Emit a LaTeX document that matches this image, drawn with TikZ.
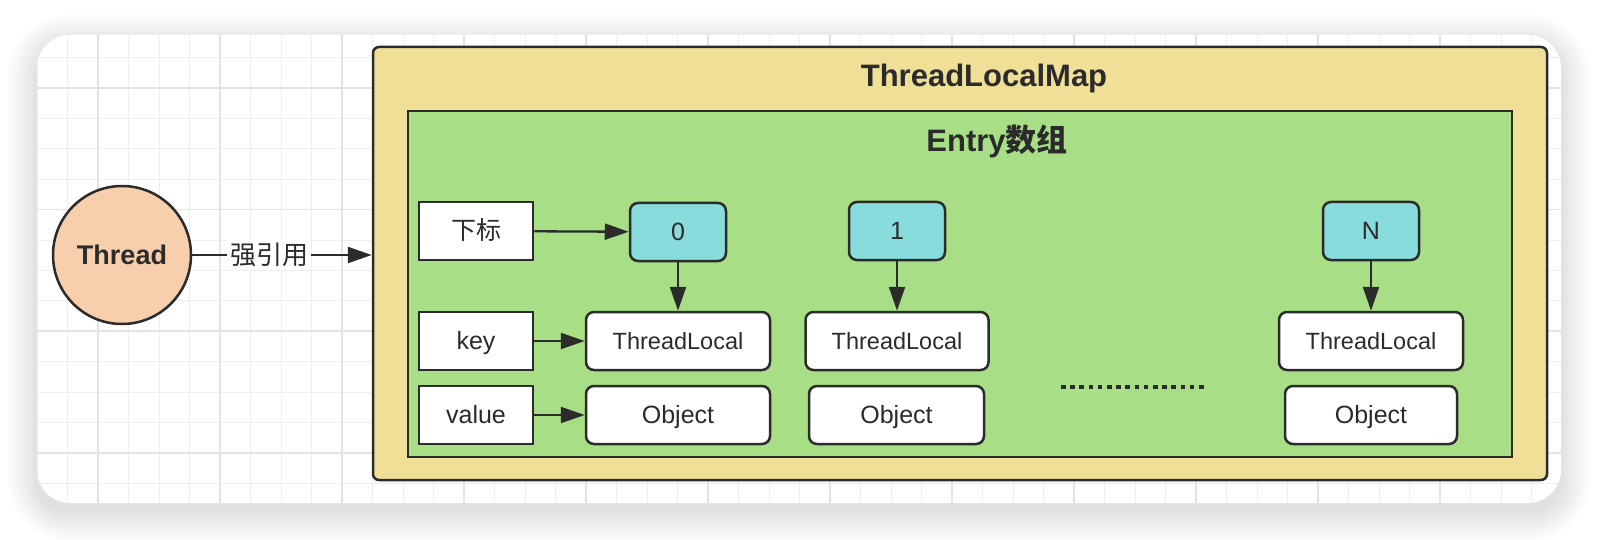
\documentclass[tikz,border=0pt]{standalone}
\usepackage{fontspec}
\setmainfont{Liberation Sans}
\newfontfamily\cjk{Noto Sans CJK SC}
\usetikzlibrary{arrows.meta}
\definecolor{ink}{HTML}{2B2B2B}
\definecolor{gridgray}{HTML}{EEEEEE}
\definecolor{gridmajor}{HTML}{E3E3E3}
\definecolor{mapyellow}{HTML}{EFDF97}
\definecolor{entrygreen}{HTML}{A8DF86}
\definecolor{cellblue}{HTML}{88DCDC}
\definecolor{threadpeach}{HTML}{F7CFAC}

\begin{document}
\begin{tikzpicture}[
    x=1pt,y=-1pt,
    box/.style={draw=ink, line width=2.5pt, fill=white, inner sep=0pt,
      minimum height=58pt, text=ink, text height=22.5pt, text depth=5.2pt,
      font=\fontsize{25}{25}\selectfont},
    cell/.style={box, fill=cellblue, rounded corners=8pt, minimum width=96pt},
    obj/.style={box, rounded corners=8pt},
    arr/.style={draw=ink, line width=2.3pt, -{Triangle[length=24pt,width=16pt]}}
    ]
    \useasboundingbox (0,0) rectangle (1598,540);
    % card shadow, card and grid
    \foreach \r in {1,...,30}
      \fill[black, opacity=0.0055, rounded corners={(33+\r)*1pt}]
        ({37-\r},{44-\r}) rectangle ({1561+\r},{512+\r});
    \fill[white, rounded corners=33pt] (37,35) rectangle (1561,503);
    \begin{scope}
      \clip[rounded corners=33pt] (37,35) rectangle (1561,503);
      \foreach \i in {-2,...,48}
        \draw[gridgray, line width=1pt] ({98+30.5*\i},35) -- ({98+30.5*\i},503);
      \foreach \i in {-2,...,14}
        \draw[gridgray, line width=1pt] (37,{88+30.4*\i}) -- (1561,{88+30.4*\i});
      \foreach \i in {0,4,...,44}
        \draw[gridmajor, line width=1.6pt] ({98+30.5*\i},35) -- ({98+30.5*\i},503);
      \foreach \i in {0,4,8,12}
        \draw[gridmajor, line width=1.6pt] (37,{88+30.4*\i}) -- (1561,{88+30.4*\i});
    \end{scope}

    % thread and map
    \node[circle, draw=ink, line width=2.5pt, fill=threadpeach, minimum size=138pt,
      inner sep=0pt, text=ink, text height=24.3pt, text depth=5.7pt,
      font=\bfseries\fontsize{27}{27}\selectfont]
      (thread) at (122,255) {Thread};
    \node[draw=ink, line width=2.5pt, fill=mapyellow, rounded corners=6pt,
      minimum width=1174pt, minimum height=433pt] (map) at (960,263.5) {};
    \node[draw=ink, line width=2.2pt, fill=entrygreen,
      minimum width=1104pt, minimum height=346pt] (entry) at (960,284) {};
    \node[text=ink, font=\bfseries\fontsize{31}{31}\selectfont]
      (maptitle) at (984,78) {ThreadLocalMap};
    \node[text=ink, font=\bfseries\fontsize{31}{31}\selectfont]
      (entrytitle) at (997,141) {Entry{\cjk 数组}};

    \draw[arr] (thread) -- node[pos=0.43, fill=white, inner sep=3pt, text=ink,
      font=\cjk\fontsize{26}{26}\selectfont] {强引用} (thread -| map.west);

    % labels
    \node[box, minimum width=114pt, font=\cjk\fontsize{25}{25}\selectfont]
      (idx) at (476,231) {下标};
    \node[box, minimum width=114pt] (key) at (476,341) {key};
    \node[box, minimum width=114pt] (value) at (476,415) {value};

    % entries
    \node[cell] (cell0) at (678,232) {0};
    \node[obj, minimum width=184pt, font=\fontsize{23.5}{23.5}\selectfont]
      (tl0) at (678,341) {ThreadLocal};
    \node[obj, minimum width=184pt] (obj0) at (678,415) {Object};

    \node[cell] (cell1) at (897,231) {1};
    \node[obj, minimum width=183pt, font=\fontsize{23.5}{23.5}\selectfont]
      (tl1) at (897,341) {ThreadLocal};
    \node[obj, minimum width=175pt] (obj1) at (896.5,415) {Object};

    \node[cell] (cellN) at (1371,231) {N};
    \node[obj, minimum width=184pt, font=\fontsize{23.5}{23.5}\selectfont]
      (tlN) at (1371,341) {ThreadLocal};
    \node[obj, minimum width=172pt] (objN) at (1371,415) {Object};

    \draw[ink, line width=4pt, dash pattern=on 4.5pt off 4.7pt] (1061,387) -- (1208,387);

    \draw[arr] (idx) -- (cell0);
    \draw[arr] (key) -- (tl0);
    \draw[arr] (value) -- (obj0);
    \draw[arr] (cell0) -- (tl0);
    \draw[arr] (cell1) -- (tl1);
    \draw[arr] (cellN) -- (tlN);
\end{tikzpicture}
\end{document}
